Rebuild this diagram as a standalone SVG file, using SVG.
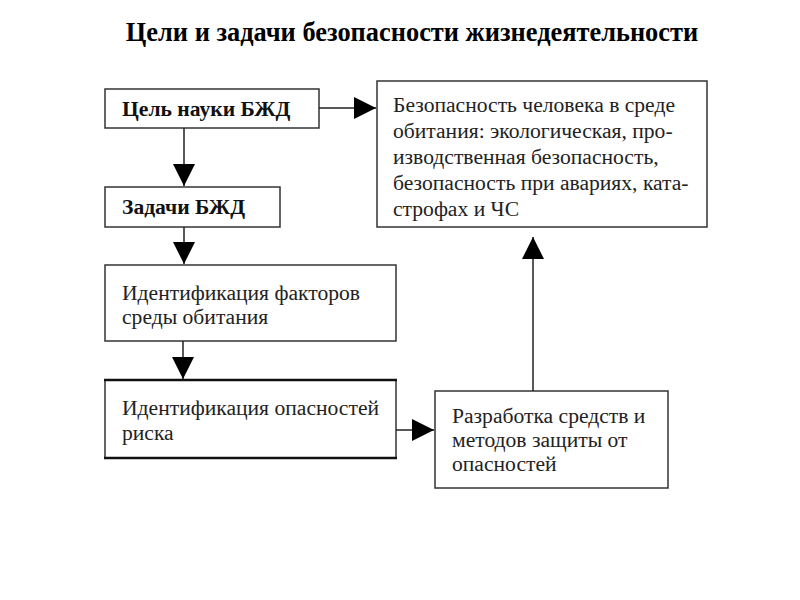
<svg xmlns="http://www.w3.org/2000/svg" width="800" height="600" viewBox="0 0 800 600">
<defs>
<marker id="ah" markerWidth="22" markerHeight="22" refX="22" refY="11" orient="auto" markerUnits="userSpaceOnUse">
<path d="M0,0 L22,11 L0,22 Z" fill="#000"/>
</marker>
<style>
.box{fill:#fff;stroke:#333;stroke-width:1.5}
.t{font-family:"Liberation Serif","Times New Roman",serif;font-size:21.6px;fill:#222}
.b{font-weight:bold;fill:#111}
.c{stroke:#222;stroke-width:1.5;fill:none}
</style>
</defs>
<rect width="800" height="600" fill="#fff"/>
<text x="412" y="41" text-anchor="middle" class="t b" style="font-size:26.4px;fill:#000">Цели и задачи безопасности жизнедеятельности</text>
<g id="goal">
<rect class="box" x="105" y="89" width="214" height="39"/>
<text class="t b" x="122" y="116">Цель науки БЖД</text>
</g>
<g id="safety">
<rect class="box" x="377" y="81" width="330" height="146"/>
<text class="t"><tspan x="393" y="112">Безопасность человека в среде</tspan><tspan x="393" y="138">обитания: экологическая, про-</tspan><tspan x="393" y="164">изводственная безопасность,</tspan><tspan x="393" y="190">безопасность при авариях, ката-</tspan><tspan x="393" y="216">строфах и ЧС</tspan></text>
</g>
<g id="tasks">
<rect class="box" x="105" y="187" width="175" height="40"/>
<text class="t b" x="122" y="214">Задачи БЖД</text>
</g>
<g id="factors">
<rect class="box" x="105" y="265" width="291" height="76"/>
<text class="t"><tspan x="122" y="300">Идентификация факторов</tspan><tspan x="122" y="324">среды обитания</tspan></text>
</g>
<g id="hazards">
<rect class="box" x="105" y="380" width="291" height="78"/>
<line x1="104" y1="380" x2="397" y2="380" stroke="#111" stroke-width="2.6"/>
<line x1="104" y1="458" x2="397" y2="458" stroke="#111" stroke-width="2.6"/>
<text class="t"><tspan x="122" y="415">Идентификация опасностей</tspan><tspan x="122" y="440">риска</tspan></text>
</g>
<g id="protection">
<rect class="box" x="435" y="391" width="233" height="97"/>
<text class="t"><tspan x="452" y="423">Разработка средств и</tspan><tspan x="452" y="447">методов защиты от</tspan><tspan x="452" y="471">опасностей</tspan></text>
</g>
<g id="connectors">
<line class="c" x1="319" y1="108" x2="376" y2="108" marker-end="url(#ah)"/>
<line class="c" x1="184" y1="128" x2="184" y2="186" marker-end="url(#ah)"/>
<line class="c" x1="184" y1="227" x2="184" y2="264" marker-end="url(#ah)"/>
<line class="c" x1="183" y1="341" x2="183" y2="379" marker-end="url(#ah)"/>
<line class="c" x1="396" y1="430" x2="434" y2="430" marker-end="url(#ah)"/>
<line class="c" x1="533" y1="391" x2="533" y2="237" marker-end="url(#ah)"/>
</g>
</svg>
